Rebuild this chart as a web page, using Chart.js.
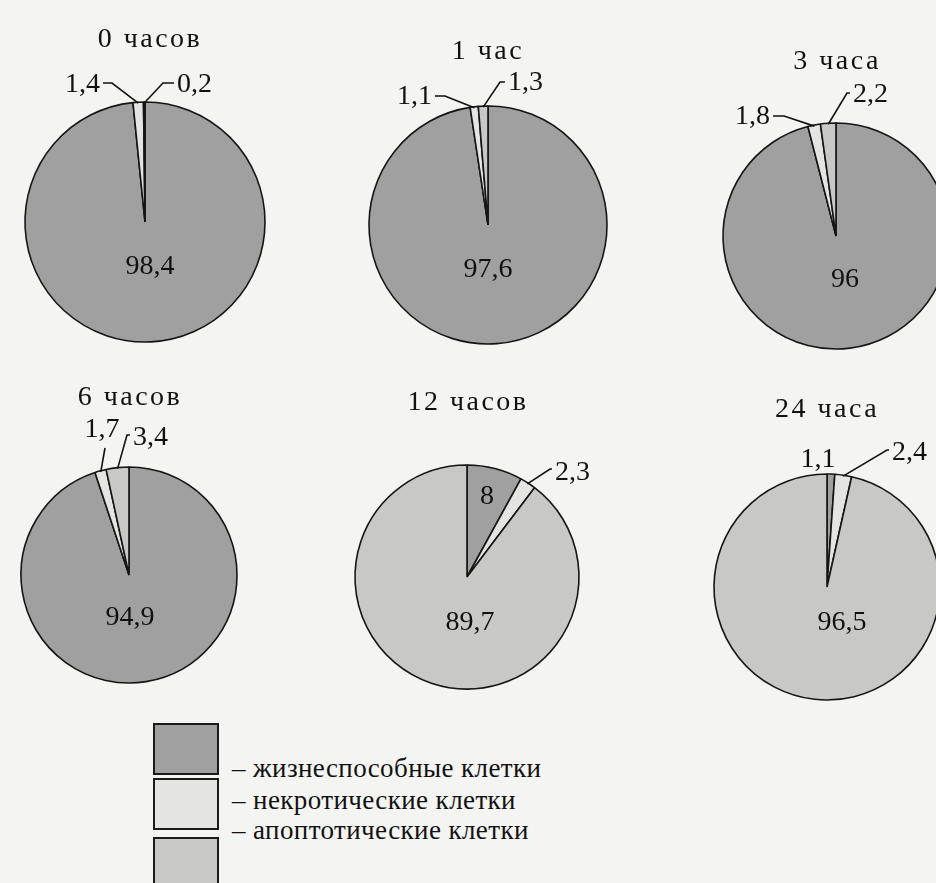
<!DOCTYPE html>
<html>
<head>
<meta charset="utf-8">
<script src="https://cdn.jsdelivr.net/npm/chart.js@4.4.1/dist/chart.umd.min.js"></script>
<style>
  html, body { margin: 0; padding: 0; }
  body { width: 936px; height: 883px; overflow: hidden; position: relative; background: #f4f4f3; font-family: 'Liberation Serif', 'DejaVu Serif', serif; }
  canvas { position: absolute; }
  .lbox { position: absolute; left: 153px; width: 62px; border: 2px solid #1a1a1a; box-sizing: content-box; }
  .ltxt { position: absolute; left: 232px; font-size: 27px; letter-spacing: 0.4px; color: #111; white-space: nowrap; line-height: 30px; }
</style>
</head>
<body>
<script>
// ---- data ----
const timepoints = ['0 часов', '1 час', '3 часа', '6 часов', '12 часов', '24 часа'];
const categories = ['жизнеспособные клетки', 'некротические клетки', 'апоптотические клетки'];
const viable    = [98.4, 97.6, 96, 94.9, 8, 1.1];
const necrotic  = [1.4, 1.1, 1.8, 1.7, 2.3, 2.4];
const apoptotic = [0.2, 1.3, 2.2, 3.4, 89.7, 96.5];

// ---- styling / layout ----
const colors = ['#a0a0a0', '#e4e4e2', '#c8c8c7'];
const pies = [ // centre and radius of each pie on the page
  { cx: 145, cy: 222, r: 120 },
  { cx: 488, cy: 225, r: 119 },
  { cx: 836, cy: 236, r: 113 },
  { cx: 129, cy: 575, r: 108 },
  { cx: 467, cy: 577, r: 112 },
  { cx: 827, cy: 587, r: 113 }
];
// title offsets and label placements relative to the pie centre
const titleOff = [[5, -182], [0, -173], [1, -174], [1, -177], [1, -174], [0, -177]];
const labelPlace = [
  [ {dx: 5, dy: 45, align: 'center'}, {dx: -45, dy: -137, align: 'right', elbow: [-33, -139]}, {dx: 32, dy: -137, align: 'left', elbow: [18, -139]} ],
  [ {dx: 0, dy: 45, align: 'center'}, {dx: -56, dy: -128, align: 'right', elbow: [-43, -129]}, {dx: 20, dy: -142, align: 'left', elbow: [12, -143]} ],
  [ {dx: 9, dy: 44, align: 'center'}, {dx: -66, dy: -119, align: 'right', elbow: [-52, -120]}, {dx: 17, dy: -141, align: 'left', elbow: [11, -143]} ],
  [ {dx: 1, dy: 43, align: 'center'}, {dx: -27, dy: -145, align: 'center', elbow: [-24, -127], noTail: true}, {dx: 4, dy: -137, align: 'left', elbow: [-2, -140]} ],
  [ {dx: 20, dy: -80, align: 'center'}, {dx: 88, dy: -104, align: 'left', elbow: [83, -108]}, {dx: 3, dy: 46, align: 'center'} ],
  [ {dx: -9, dy: -127, align: 'center'}, {dx: 65, dy: -134, align: 'left', elbow: [60, -137]}, {dx: 15, dy: 36, align: 'center'} ]
];

const CW = 340, CH = 360, OX = 170, OY = 210;
const fmt = v => String(v).replace('.', ',');

const labelPlugin = {
  id: 'pieLabels',
  afterDatasetsDraw(chart) {
    const idx = chart.options.plugins.pieLabels.index;
    const ctx = chart.ctx;
    const meta = chart.getDatasetMeta(0);
    const ds = chart.data.datasets[0];
    ctx.save();
    ctx.fillStyle = '#111';
    ctx.strokeStyle = '#111';
    ctx.lineWidth = 1.6;
    ctx.textBaseline = 'middle';
    // title
    ctx.font = '28px "Liberation Serif", serif';
    ctx.letterSpacing = '2.5px';
    ctx.textAlign = 'center';
    ctx.fillText(timepoints[idx], OX + titleOff[idx][0], OY + titleOff[idx][1]);
    ctx.letterSpacing = '0px';
    // values
    ctx.font = '28px "Liberation Serif", serif';
    meta.data.forEach((arc, i) => {
      const p = labelPlace[idx][i];
      const { x, y, startAngle, endAngle, outerRadius } = arc.getProps(['x', 'y', 'startAngle', 'endAngle', 'outerRadius'], true);
      const tx = x + p.dx, ty = y + p.dy;
      if (p.elbow) {
        const mid = (startAngle + endAngle) / 2;
        const ax = x + Math.cos(mid) * (outerRadius - 1);
        const ay = y + Math.sin(mid) * (outerRadius - 1);
        const ex = x + p.elbow[0], ey = y + p.elbow[1];
        ctx.beginPath();
        ctx.moveTo(ax, ay);
        ctx.lineTo(ex, ey);
        if (!p.noTail) {
          const sx = p.align === 'right' ? tx + 3 : tx - 3;
          ctx.lineTo(sx, ey);
        }
        ctx.stroke();
      }
      ctx.textAlign = p.align;
      ctx.fillText(fmt(ds.data[i]), tx, ty);
    });
    ctx.restore();
  }
};

pies.forEach((p, i) => {
  const cv = document.createElement('canvas');
  cv.width = CW; cv.height = CH;
  cv.style.left = (p.cx - OX) + 'px';
  cv.style.top = (p.cy - OY) + 'px';
  cv.style.width = CW + 'px'; cv.style.height = CH + 'px';
  document.body.appendChild(cv);
  const bw = 1.6;
  new Chart(cv, {
    type: 'pie',
    data: {
      labels: categories,
      datasets: [{
        data: [viable[i], necrotic[i], apoptotic[i]],
        backgroundColor: colors,
        borderColor: '#151515',
        borderWidth: bw,
        borderAlign: 'center'
      }]
    },
    options: {
      responsive: false,
      animation: false,
      events: [],
      layout: { padding: {
        left: OX - p.r - bw / 2, right: CW - OX - p.r - bw / 2,
        top: OY - p.r - bw / 2, bottom: CH - OY - p.r - bw / 2 } },
      plugins: { legend: { display: false }, tooltip: { enabled: false }, pieLabels: { index: i } }
    },
    plugins: [labelPlugin]
  });
});

// legend (HTML)
const legendBoxes = [
  { top: 723, h: 48, c: colors[0] },
  { top: 778, h: 48, c: colors[1] },
  { top: 837, h: 60, c: colors[2] }
];
legendBoxes.forEach(b => {
  const d = document.createElement('div');
  d.className = 'lbox';
  d.style.top = b.top + 'px'; d.style.height = b.h + 'px'; d.style.background = b.c;
  document.body.appendChild(d);
});
const legendTop = [753, 785, 815];
categories.forEach((c, i) => {
  const d = document.createElement('div');
  d.className = 'ltxt';
  d.style.top = legendTop[i] + 'px';
  d.textContent = '– ' + c;
  document.body.appendChild(d);
});
</script>
</body>
</html>
